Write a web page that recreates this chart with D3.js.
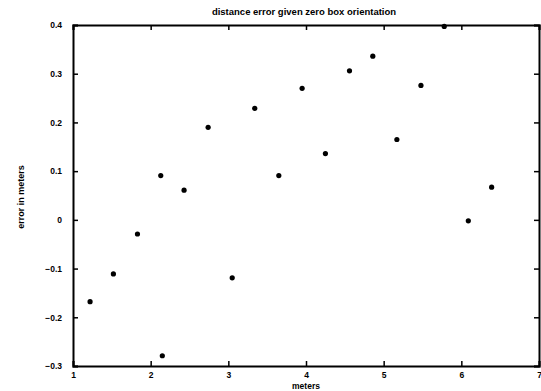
<!DOCTYPE html>
<html>
<head>
<meta charset="utf-8">
<script src="https://cdn.jsdelivr.net/npm/d3@7"></script>
<style>
  body { margin: 0; background: #fff; }
  svg text { font-family: "Liberation Sans", Arial, sans-serif; font-weight: bold; fill: #000; }
</style>
</head>
<body>
<div id="chart"></div>
<script>
// data
const distances = [1.22, 1.52, 1.83, 2.13, 2.15, 2.43, 2.74, 3.05, 3.34, 3.65, 3.95, 4.25, 4.56, 4.86, 5.17, 5.48, 5.78, 6.09, 6.39];
const errors = [-0.168, -0.111, -0.029, 0.091, -0.279, 0.061, 0.190, -0.119, 0.229, 0.091, 0.270, 0.136, 0.306, 0.336, 0.165, 0.276, 0.397, -0.002, 0.067];
const xTicks = [1, 2, 3, 4, 5, 6, 7];
const yTicks = [-0.3, -0.2, -0.1, 0, 0.1, 0.2, 0.3, 0.4];

const width = 541, height = 391;
const margin = {top: 25, right: 2, bottom: 25, left: 73};
const chartWidth = width - margin.left - margin.right;
const chartHeight = height - margin.top - margin.bottom;

const svg = d3.select('#chart').append('svg')
  .attr('width', width)
  .attr('height', height);

const chart = svg.append('g')
  .attr('transform', `translate(${margin.left}, ${margin.top})`);

const scaleX = d3.scaleLinear().domain([1, 7]).range([0, chartWidth]);
const scaleY = d3.scaleLinear().domain([-0.3, 0.4]).range([chartHeight, 0]);

const fmtY = d => d === 0 ? '0' : d3.format('.1f')(d);

// bottom / left axes with labels, ticks pointing inward
const axisB = chart.append('g')
  .attr('transform', `translate(0, ${chartHeight})`)
  .call(d3.axisBottom(scaleX).tickValues(xTicks).tickSize(-5).tickPadding(6).tickFormat(d3.format('d')));
const axisL = chart.append('g')
  .call(d3.axisLeft(scaleY).tickValues(yTicks).tickSize(-5).tickPadding(11).tickFormat(fmtY));
// top / right mirror ticks
const axisT = chart.append('g')
  .call(d3.axisTop(scaleX).tickValues(xTicks).tickSize(-5).tickFormat(''));
const axisR = chart.append('g')
  .attr('transform', `translate(${chartWidth}, 0)`)
  .call(d3.axisRight(scaleY).tickValues(yTicks).tickSize(-5).tickFormat(''));

[axisB, axisL, axisT, axisR].forEach(a => {
  a.select('.domain').attr('stroke', '#000').attr('stroke-width', 2);
  a.selectAll('.tick line').attr('stroke', '#000').attr('stroke-width', 1.5);
  a.selectAll('.tick text').style('font-size', '8.5px').style('font-family', '"Liberation Sans", Arial, sans-serif').style('font-weight', 'bold');
});

// points
chart.selectAll('.pt')
  .data(distances.map((d, i) => ({x: d, y: errors[i]})))
  .join('circle')
  .attr('class', 'pt')
  .attr('cx', d => scaleX(d.x))
  .attr('cy', d => scaleY(d.y))
  .attr('r', 2.6)
  .attr('fill', '#000');

// titles
svg.append('text')
  .attr('x', 304).attr('y', 15)
  .attr('text-anchor', 'middle')
  .style('font-size', '9.5px')
  .text('distance error given zero box orientation');

svg.append('text')
  .attr('x', 306).attr('y', 389)
  .attr('text-anchor', 'middle')
  .style('font-size', '8.5px')
  .text('meters');

svg.append('text')
  .attr('transform', 'translate(24, 197) rotate(-90)')
  .attr('text-anchor', 'middle')
  .style('font-size', '9px')
  .text('error in meters');
</script>
</body>
</html>
